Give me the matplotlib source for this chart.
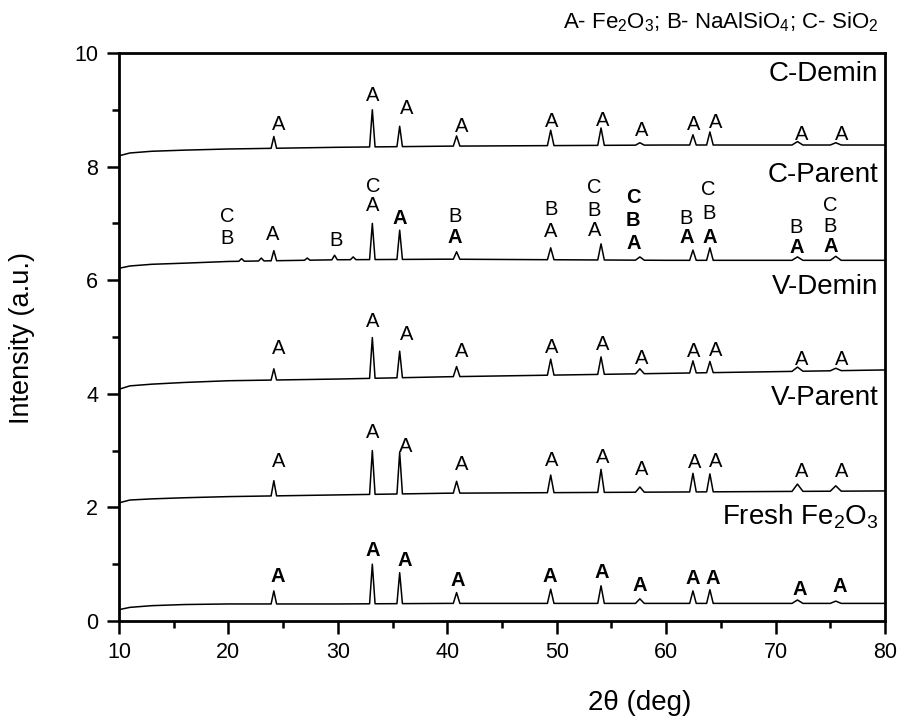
import numpy as np
import matplotlib
matplotlib.use("Agg")
import matplotlib.pyplot as plt
from matplotlib import font_manager

plt.rcParams['font.family'] = ['Liberation Sans', 'DejaVu Sans']
plt.rcParams['mathtext.fontset'] = 'custom'
plt.rcParams['mathtext.rm'] = 'Liberation Sans'
plt.rcParams['mathtext.it'] = 'Liberation Sans:italic'

_installed = {f.name for f in font_manager.fontManager.ttflist}
narrow = 'Liberation Sans Narrow' in _installed

# ---------------- data ----------------
samples = ["Fresh Fe$_2$O$_3$", "V-Parent", "V-Demin", "C-Parent", "C-Demin"]
sample_label_y = [1.83, 3.93, 5.88, 7.85, 9.63]

baseline_x = [10, 11, 13, 16, 20, 30, 40, 50, 60, 70, 80]
baseline_fresh = [0.20, 0.24, 0.27, 0.29, 0.30, 0.30, 0.31, 0.31, 0.31, 0.31, 0.31]
baseline_vpar = [2.08, 2.13, 2.15, 2.17, 2.19, 2.22, 2.25, 2.26, 2.27, 2.28, 2.29]
baseline_vdem = [4.08, 4.14, 4.17, 4.20, 4.23, 4.26, 4.30, 4.33, 4.36, 4.39, 4.42]
baseline_cpar = [6.21, 6.25, 6.28, 6.30, 6.33, 6.36, 6.37, 6.36, 6.35, 6.35, 6.35]
baseline_cdem = [8.19, 8.24, 8.27, 8.29, 8.31, 8.34, 8.36, 8.37, 8.38, 8.38, 8.38]

# hematite (A) reflections
peak_pos = [24.15, 33.15, 35.65, 40.85, 49.45, 54.05, 57.6, 62.45, 64.0, 72.0, 75.5]
peak_hw = [0.25, 0.25, 0.25, 0.3, 0.3, 0.3, 0.4, 0.3, 0.3, 0.5, 0.5]
top_fresh = [0.53, 1.00, 0.85, 0.50, 0.56, 0.62, 0.39, 0.53, 0.55, 0.37, 0.35]
top_vpar = [2.47, 3.00, 2.97, 2.46, 2.57, 2.67, 2.36, 2.60, 2.59, 2.41, 2.38]
top_vdem = [4.44, 4.99, 4.75, 4.48, 4.61, 4.65, 4.44, 4.58, 4.57, 4.47, 4.45]
top_cpar = [6.52, 7.00, 6.88, 6.50, 6.57, 6.64, 6.41, 6.53, 6.57, 6.41, 6.42]
top_cdem = [8.53, 9.00, 8.71, 8.54, 8.64, 8.68, 8.42, 8.56, 8.61, 8.44, 8.42]

# minor (B / C) reflections seen only in C-Parent
minor_pos_cpar = [21.2, 23.0, 27.2, 29.7, 31.4]
minor_top_cpar = [6.38, 6.39, 6.39, 6.44, 6.41]

# peak annotations: (x, y, text, bold)
labels_fresh = [(24.5, 0.78, 'A', True), (33.2, 1.25, 'A', True), (36.1, 1.07, 'A', True),
                (41.0, 0.71, 'A', True), (49.4, 0.79, 'A', True), (54.1, 0.85, 'A', True),
                (57.6, 0.63, 'A', True), (62.4, 0.74, 'A', True), (64.3, 0.74, 'A', True),
                (72.2, 0.56, 'A', True), (75.9, 0.60, 'A', True)]
labels_vpar = [(24.6, 2.80, 'A', False), (33.2, 3.31, 'A', False), (36.2, 3.08, 'A', False),
               (41.3, 2.76, 'A', False), (49.55, 2.83, 'A', False), (54.2, 2.87, 'A', False),
               (57.8, 2.66, 'A', False), (62.6, 2.79, 'A', False), (64.5, 2.80, 'A', False),
               (72.4, 2.63, 'A', False), (76.05, 2.63, 'A', False)]
labels_vdem = [(24.6, 4.79, 'A', False), (33.2, 5.27, 'A', False), (36.3, 5.05, 'A', False),
               (41.3, 4.74, 'A', False), (49.55, 4.81, 'A', False), (54.2, 4.86, 'A', False),
               (57.8, 4.63, 'A', False), (62.55, 4.74, 'A', False), (64.5, 4.77, 'A', False),
               (72.4, 4.60, 'A', False), (76.05, 4.60, 'A', False)]
labels_cpar = [(19.85, 6.74, 'B', False), (19.85, 7.13, 'C', False),
               (24.05, 6.81, 'A', False), (29.8, 6.70, 'B', False),
               (33.2, 7.31, 'A', False), (33.2, 7.65, 'C', False),
               (35.7, 7.08, 'A', True),
               (40.7, 6.76, 'A', True), (40.7, 7.13, 'B', False),
               (49.45, 6.85, 'A', False), (49.45, 7.25, 'B', False),
               (53.5, 6.88, 'A', False), (53.45, 7.22, 'B', False), (53.4, 7.64, 'C', False),
               (57.0, 6.65, 'A', True), (57.0, 7.05, 'B', True), (57.0, 7.45, 'C', True),
               (61.9, 6.76, 'A', True), (61.8, 7.09, 'B', False),
               (63.95, 6.76, 'A', True), (63.9, 7.17, 'B', False), (63.85, 7.60, 'C', False),
               (71.9, 6.57, 'A', True), (71.9, 6.92, 'B', False),
               (75.0, 6.59, 'A', True), (75.0, 6.94, 'B', False), (75.0, 7.32, 'C', False)]
labels_cdem = [(24.6, 8.75, 'A', False), (33.2, 9.26, 'A', False), (36.3, 9.03, 'A', False),
               (41.3, 8.70, 'A', False), (49.55, 8.79, 'A', False), (54.2, 8.82, 'A', False),
               (57.8, 8.63, 'A', False), (62.55, 8.75, 'A', False), (64.5, 8.77, 'A', False),
               (72.4, 8.57, 'A', False), (76.05, 8.57, 'A', False)]

xticks = [10, 20, 30, 40, 50, 60, 70, 80]
yticks = [0, 2, 4, 6, 8, 10]


def build_trace(bx, by, pos, tops, hws):
    """Polyline through baseline knots plus a triangle vertex set per peak."""
    xs = list(bx)
    ys = list(by)
    for p, t, w in zip(pos, tops, hws):
        b_left = np.interp(p - w, bx, by)
        b_right = np.interp(p + w, bx, by)
        xs += [p - w, p, p + w]
        ys += [b_left, t, b_right]
    order = np.argsort(xs, kind='stable')
    return np.array(xs)[order], np.array(ys)[order]


fig = plt.figure(figsize=(8.99, 7.16), dpi=100)
ax = fig.add_axes([119 / 899, 1 - 621 / 716, (885 - 119) / 899, (621 - 53) / 716])

traces = [
    (baseline_fresh, peak_pos, top_fresh, peak_hw),
    (baseline_vpar, peak_pos, top_vpar, peak_hw),
    (baseline_vdem, peak_pos, top_vdem, peak_hw),
    (baseline_cpar, peak_pos + minor_pos_cpar, top_cpar + minor_top_cpar,
     peak_hw + [0.25] * len(minor_pos_cpar)),
    (baseline_cdem, peak_pos, top_cdem, peak_hw),
]
for by, pos, tops, hws in traces:
    x, y = build_trace(baseline_x, by, pos, tops, hws)
    ax.plot(x, y, color='black', lw=1.1)

for lab_list in [labels_fresh, labels_vpar, labels_vdem, labels_cpar, labels_cdem]:
    for lx, ly, t, bold in lab_list:
        ax.text(lx, ly, t, ha='center', va='center', fontsize=14.5,
                fontweight='bold' if bold else 'normal')

for name, ly in zip(samples, sample_label_y):
    ax.text(79.4, ly, name, ha='right', va='center', fontsize=20)

# header: condensed face if available
if narrow:
    title_family = ['Liberation Sans Narrow', 'Liberation Sans']
    title_size = 19
else:
    title_family = ['Liberation Sans', 'DejaVu Sans']
    title_size = 16
ax.text(79.4, 10.55, "A- Fe$_2$O$_3$; B- NaAlSiO$_4$; C- SiO$_2$",
        ha='right', va='center', fontsize=title_size, family=title_family,
        clip_on=False)

ax.set_xlim(10, 80)
ax.set_ylim(0, 10)
ax.set_xticks(xticks)
ax.set_yticks(yticks)
ax.set_xticks(np.arange(15, 80, 10), minor=True)
ax.set_yticks(np.arange(1, 10, 2), minor=True)
ax.tick_params(axis='both', which='major', direction='out', length=9, width=1.8,
               labelsize=15.5, pad=6)
ax.tick_params(axis='both', which='minor', direction='out', length=5, width=1.8)
for s in ax.spines.values():
    s.set_linewidth(2)

fig.text(22 / 899, 1 - 338 / 716, "Intensity (a.u.)", fontsize=19.5,
         rotation=90, ha='center', va='center')
fig.text(640 / 899, 1 - 703 / 716, "2θ (deg)", fontsize=20, ha='center', va='center')

fig.savefig("out.png", dpi=100)
